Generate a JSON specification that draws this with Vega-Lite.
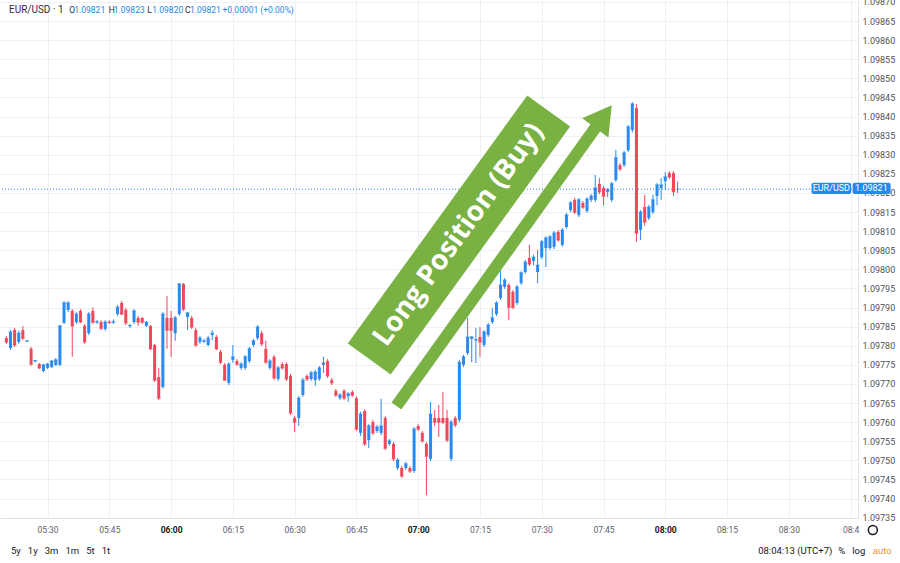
{
  "$schema": "https://vega.github.io/schema/vega-lite/v6.json",
  "width": 858,
  "height": 518,
  "autosize": {"type": "none"},
  "padding": {"left": 0, "top": 0, "right": 42, "bottom": 45},
  "background": "white",
  "config": {"view": {"stroke": null}, "font": "Roboto"},
  "data": {
    "format": {"parse": {"t": "utc:'%H:%M'"}},
    "values": [
      {"t":"05:20","o":1.097820,"h":1.097826,"l":1.097805,"c":1.097810},
      {"t":"05:21","o":1.097794,"h":1.097841,"l":1.097789,"c":1.097836},
      {"t":"05:22","o":1.097841,"h":1.097847,"l":1.097797,"c":1.097802},
      {"t":"05:23","o":1.097810,"h":1.097839,"l":1.097805,"c":1.097833},
      {"t":"05:24","o":1.097841,"h":1.097852,"l":1.097815,"c":1.097820},
      {"t":"05:25","o":1.097811,"h":1.097815,"l":1.097810,"c":1.097813},
      {"t":"05:26","o":1.097792,"h":1.097797,"l":1.097747,"c":1.097752},
      {"t":"05:27","o":1.097759,"h":1.097763,"l":1.097757,"c":1.097761},
      {"t":"05:28","o":1.097752,"h":1.097755,"l":1.097739,"c":1.097742},
      {"t":"05:29","o":1.097734,"h":1.097752,"l":1.097731,"c":1.097750},
      {"t":"05:30","o":1.097742,"h":1.097755,"l":1.097739,"c":1.097752},
      {"t":"05:31","o":1.097744,"h":1.097763,"l":1.097742,"c":1.097760},
      {"t":"05:32","o":1.097750,"h":1.097768,"l":1.097747,"c":1.097763},
      {"t":"05:33","o":1.097750,"h":1.097854,"l":1.097747,"c":1.097852},
      {"t":"05:34","o":1.097860,"h":1.097917,"l":1.097857,"c":1.097912},
      {"t":"05:35","o":1.097894,"h":1.097917,"l":1.097888,"c":1.097912},
      {"t":"05:36","o":1.097891,"h":1.097896,"l":1.097771,"c":1.097852},
      {"t":"05:37","o":1.097862,"h":1.097888,"l":1.097857,"c":1.097883},
      {"t":"05:38","o":1.097891,"h":1.097896,"l":1.097860,"c":1.097862},
      {"t":"05:39","o":1.097852,"h":1.097857,"l":1.097805,"c":1.097810},
      {"t":"05:40","o":1.097833,"h":1.097888,"l":1.097828,"c":1.097883},
      {"t":"05:41","o":1.097891,"h":1.097901,"l":1.097857,"c":1.097862},
      {"t":"05:42","o":1.097861,"h":1.097867,"l":1.097857,"c":1.097863},
      {"t":"05:43","o":1.097862,"h":1.097867,"l":1.097841,"c":1.097846},
      {"t":"05:44","o":1.097844,"h":1.097867,"l":1.097839,"c":1.097862},
      {"t":"05:45","o":1.097863,"h":1.097867,"l":1.097857,"c":1.097861},
      {"t":"05:46","o":1.097861,"h":1.097869,"l":1.097857,"c":1.097863},
      {"t":"05:47","o":1.097883,"h":1.097907,"l":1.097878,"c":1.097901},
      {"t":"05:48","o":1.097912,"h":1.097917,"l":1.097880,"c":1.097883},
      {"t":"05:49","o":1.097894,"h":1.097899,"l":1.097854,"c":1.097860},
      {"t":"05:50","o":1.097851,"h":1.097857,"l":1.097847,"c":1.097853},
      {"t":"05:51","o":1.097862,"h":1.097896,"l":1.097857,"c":1.097891},
      {"t":"05:52","o":1.097873,"h":1.097878,"l":1.097852,"c":1.097862},
      {"t":"05:53","o":1.097873,"h":1.097875,"l":1.097857,"c":1.097862},
      {"t":"05:54","o":1.097852,"h":1.097865,"l":1.097849,"c":1.097862},
      {"t":"05:55","o":1.097852,"h":1.097854,"l":1.097789,"c":1.097792},
      {"t":"05:56","o":1.097802,"h":1.097805,"l":1.097705,"c":1.097710},
      {"t":"05:57","o":1.097718,"h":1.097742,"l":1.097658,"c":1.097663},
      {"t":"05:58","o":1.097692,"h":1.097888,"l":1.097687,"c":1.097883},
      {"t":"05:59","o":1.097873,"h":1.097930,"l":1.097792,"c":1.097841},
      {"t":"06:00","o":1.097873,"h":1.097891,"l":1.097771,"c":1.097841},
      {"t":"06:01","o":1.097833,"h":1.097878,"l":1.097813,"c":1.097873},
      {"t":"06:02","o":1.097883,"h":1.097964,"l":1.097878,"c":1.097962},
      {"t":"06:03","o":1.097962,"h":1.097964,"l":1.097891,"c":1.097896},
      {"t":"06:04","o":1.097875,"h":1.097888,"l":1.097841,"c":1.097886},
      {"t":"06:05","o":1.097873,"h":1.097878,"l":1.097844,"c":1.097849},
      {"t":"06:06","o":1.097841,"h":1.097847,"l":1.097797,"c":1.097802},
      {"t":"06:07","o":1.097810,"h":1.097826,"l":1.097805,"c":1.097820},
      {"t":"06:08","o":1.097811,"h":1.097818,"l":1.097807,"c":1.097813},
      {"t":"06:09","o":1.097802,"h":1.097826,"l":1.097799,"c":1.097820},
      {"t":"06:10","o":1.097828,"h":1.097841,"l":1.097815,"c":1.097833},
      {"t":"06:11","o":1.097823,"h":1.097828,"l":1.097789,"c":1.097792},
      {"t":"06:12","o":1.097784,"h":1.097789,"l":1.097752,"c":1.097757},
      {"t":"06:13","o":1.097750,"h":1.097755,"l":1.097708,"c":1.097710},
      {"t":"06:14","o":1.097703,"h":1.097757,"l":1.097697,"c":1.097752},
      {"t":"06:15","o":1.097763,"h":1.097802,"l":1.097755,"c":1.097771},
      {"t":"06:16","o":1.097760,"h":1.097765,"l":1.097747,"c":1.097752},
      {"t":"06:17","o":1.097742,"h":1.097757,"l":1.097737,"c":1.097752},
      {"t":"06:18","o":1.097742,"h":1.097776,"l":1.097737,"c":1.097771},
      {"t":"06:19","o":1.097760,"h":1.097797,"l":1.097755,"c":1.097792},
      {"t":"06:20","o":1.097802,"h":1.097818,"l":1.097797,"c":1.097813},
      {"t":"06:21","o":1.097820,"h":1.097854,"l":1.097815,"c":1.097849},
      {"t":"06:22","o":1.097833,"h":1.097839,"l":1.097799,"c":1.097805},
      {"t":"06:23","o":1.097792,"h":1.097813,"l":1.097752,"c":1.097757},
      {"t":"06:24","o":1.097742,"h":1.097765,"l":1.097737,"c":1.097760},
      {"t":"06:25","o":1.097771,"h":1.097776,"l":1.097710,"c":1.097716},
      {"t":"06:26","o":1.097713,"h":1.097747,"l":1.097708,"c":1.097742},
      {"t":"06:27","o":1.097752,"h":1.097757,"l":1.097737,"c":1.097742},
      {"t":"06:28","o":1.097752,"h":1.097757,"l":1.097708,"c":1.097713},
      {"t":"06:29","o":1.097721,"h":1.097726,"l":1.097619,"c":1.097624},
      {"t":"06:30","o":1.097611,"h":1.097616,"l":1.097574,"c":1.097600},
      {"t":"06:31","o":1.097611,"h":1.097668,"l":1.097590,"c":1.097663},
      {"t":"06:32","o":1.097671,"h":1.097716,"l":1.097666,"c":1.097710},
      {"t":"06:33","o":1.097721,"h":1.097726,"l":1.097708,"c":1.097713},
      {"t":"06:34","o":1.097713,"h":1.097734,"l":1.097708,"c":1.097729},
      {"t":"06:35","o":1.097710,"h":1.097737,"l":1.097695,"c":1.097731},
      {"t":"06:36","o":1.097713,"h":1.097747,"l":1.097708,"c":1.097742},
      {"t":"06:37","o":1.097750,"h":1.097771,"l":1.097729,"c":1.097755},
      {"t":"06:38","o":1.097760,"h":1.097765,"l":1.097716,"c":1.097721},
      {"t":"06:39","o":1.097710,"h":1.097716,"l":1.097697,"c":1.097703},
      {"t":"06:40","o":1.097682,"h":1.097687,"l":1.097666,"c":1.097671},
      {"t":"06:41","o":1.097663,"h":1.097676,"l":1.097658,"c":1.097671},
      {"t":"06:42","o":1.097682,"h":1.097687,"l":1.097658,"c":1.097663},
      {"t":"06:43","o":1.097668,"h":1.097679,"l":1.097653,"c":1.097674},
      {"t":"06:44","o":1.097679,"h":1.097684,"l":1.097666,"c":1.097671},
      {"t":"06:45","o":1.097663,"h":1.097668,"l":1.097577,"c":1.097582},
      {"t":"06:46","o":1.097572,"h":1.097627,"l":1.097564,"c":1.097621},
      {"t":"06:47","o":1.097629,"h":1.097634,"l":1.097538,"c":1.097543},
      {"t":"06:48","o":1.097553,"h":1.097595,"l":1.097532,"c":1.097590},
      {"t":"06:49","o":1.097600,"h":1.097606,"l":1.097566,"c":1.097572},
      {"t":"06:50","o":1.097577,"h":1.097593,"l":1.097572,"c":1.097587},
      {"t":"06:51","o":1.097572,"h":1.097661,"l":1.097566,"c":1.097590},
      {"t":"06:52","o":1.097611,"h":1.097616,"l":1.097527,"c":1.097532},
      {"t":"06:53","o":1.097543,"h":1.097556,"l":1.097538,"c":1.097551},
      {"t":"06:54","o":1.097543,"h":1.097548,"l":1.097498,"c":1.097504},
      {"t":"06:55","o":1.097480,"h":1.097506,"l":1.097475,"c":1.097501},
      {"t":"06:56","o":1.097480,"h":1.097485,"l":1.097454,"c":1.097459},
      {"t":"06:57","o":1.097480,"h":1.097496,"l":1.097475,"c":1.097491},
      {"t":"06:58","o":1.097480,"h":1.097485,"l":1.097467,"c":1.097472},
      {"t":"06:59","o":1.097472,"h":1.097587,"l":1.097467,"c":1.097582},
      {"t":"07:00","o":1.097590,"h":1.097595,"l":1.097577,"c":1.097582},
      {"t":"07:01","o":1.097572,"h":1.097577,"l":1.097546,"c":1.097551},
      {"t":"07:02","o":1.097543,"h":1.097548,"l":1.097409,"c":1.097511},
      {"t":"07:03","o":1.097504,"h":1.097653,"l":1.097498,"c":1.097621},
      {"t":"07:04","o":1.097611,"h":1.097632,"l":1.097590,"c":1.097600},
      {"t":"07:05","o":1.097611,"h":1.097645,"l":1.097561,"c":1.097600},
      {"t":"07:06","o":1.097611,"h":1.097679,"l":1.097595,"c":1.097600},
      {"t":"07:07","o":1.097611,"h":1.097632,"l":1.097548,"c":1.097553},
      {"t":"07:08","o":1.097504,"h":1.097606,"l":1.097498,"c":1.097600},
      {"t":"07:09","o":1.097611,"h":1.097616,"l":1.097587,"c":1.097593},
      {"t":"07:10","o":1.097606,"h":1.097763,"l":1.097600,"c":1.097757},
      {"t":"07:11","o":1.097750,"h":1.097776,"l":1.097744,"c":1.097771},
      {"t":"07:12","o":1.097781,"h":1.097873,"l":1.097776,"c":1.097823},
      {"t":"07:13","o":1.097818,"h":1.097826,"l":1.097757,"c":1.097823},
      {"t":"07:14","o":1.097814,"h":1.097847,"l":1.097755,"c":1.097816},
      {"t":"07:15","o":1.097823,"h":1.097849,"l":1.097771,"c":1.097810},
      {"t":"07:16","o":1.097802,"h":1.097841,"l":1.097797,"c":1.097836},
      {"t":"07:17","o":1.097828,"h":1.097860,"l":1.097823,"c":1.097854},
      {"t":"07:18","o":1.097862,"h":1.097899,"l":1.097857,"c":1.097873},
      {"t":"07:19","o":1.097883,"h":1.097917,"l":1.097878,"c":1.097912},
      {"t":"07:20","o":1.097925,"h":1.097998,"l":1.097920,"c":1.097959},
      {"t":"07:21","o":1.097954,"h":1.097977,"l":1.097949,"c":1.097972},
      {"t":"07:22","o":1.097959,"h":1.097964,"l":1.097867,"c":1.097901},
      {"t":"07:23","o":1.097941,"h":1.097946,"l":1.097896,"c":1.097901},
      {"t":"07:24","o":1.097912,"h":1.097959,"l":1.097907,"c":1.097954},
      {"t":"07:25","o":1.097964,"h":1.097995,"l":1.097959,"c":1.097991},
      {"t":"07:26","o":1.097993,"h":1.098025,"l":1.097988,"c":1.098019},
      {"t":"07:27","o":1.098030,"h":1.098064,"l":1.098009,"c":1.098014},
      {"t":"07:28","o":1.098022,"h":1.098038,"l":1.098011,"c":1.098032},
      {"t":"07:29","o":1.097993,"h":1.098051,"l":1.097964,"c":1.098011},
      {"t":"07:30","o":1.098032,"h":1.098077,"l":1.098027,"c":1.098072},
      {"t":"07:31","o":1.098056,"h":1.098087,"l":1.098006,"c":1.098082},
      {"t":"07:32","o":1.098056,"h":1.098090,"l":1.098051,"c":1.098085},
      {"t":"07:33","o":1.098059,"h":1.098100,"l":1.098053,"c":1.098095},
      {"t":"07:34","o":1.098098,"h":1.098103,"l":1.098072,"c":1.098077},
      {"t":"07:35","o":1.098064,"h":1.098108,"l":1.098059,"c":1.098103},
      {"t":"07:36","o":1.098111,"h":1.098148,"l":1.098106,"c":1.098142},
      {"t":"07:37","o":1.098155,"h":1.098179,"l":1.098150,"c":1.098174},
      {"t":"07:38","o":1.098182,"h":1.098187,"l":1.098145,"c":1.098150},
      {"t":"07:39","o":1.098142,"h":1.098187,"l":1.098137,"c":1.098182},
      {"t":"07:40","o":1.098174,"h":1.098179,"l":1.098158,"c":1.098163},
      {"t":"07:41","o":1.098153,"h":1.098189,"l":1.098148,"c":1.098184},
      {"t":"07:42","o":1.098182,"h":1.098197,"l":1.098176,"c":1.098192},
      {"t":"07:43","o":1.098182,"h":1.098247,"l":1.098176,"c":1.098213},
      {"t":"07:44","o":1.098224,"h":1.098239,"l":1.098197,"c":1.098203},
      {"t":"07:45","o":1.098213,"h":1.098218,"l":1.098168,"c":1.098192},
      {"t":"07:46","o":1.098203,"h":1.098213,"l":1.098189,"c":1.098208},
      {"t":"07:47","o":1.098182,"h":1.098229,"l":1.098176,"c":1.098224},
      {"t":"07:48","o":1.098234,"h":1.098313,"l":1.098229,"c":1.098292},
      {"t":"07:49","o":1.098273,"h":1.098278,"l":1.098257,"c":1.098263},
      {"t":"07:50","o":1.098273,"h":1.098310,"l":1.098268,"c":1.098305},
      {"t":"07:51","o":1.098312,"h":1.098378,"l":1.098307,"c":1.098373},
      {"t":"07:52","o":1.098365,"h":1.098438,"l":1.098359,"c":1.098433},
      {"t":"07:53","o":1.098422,"h":1.098433,"l":1.098072,"c":1.098095},
      {"t":"07:54","o":1.098103,"h":1.098155,"l":1.098077,"c":1.098150},
      {"t":"07:55","o":1.098163,"h":1.098195,"l":1.098114,"c":1.098124},
      {"t":"07:56","o":1.098134,"h":1.098169,"l":1.098129,"c":1.098163},
      {"t":"07:57","o":1.098150,"h":1.098195,"l":1.098145,"c":1.098182},
      {"t":"07:58","o":1.098192,"h":1.098226,"l":1.098168,"c":1.098221},
      {"t":"07:59","o":1.098213,"h":1.098239,"l":1.098182,"c":1.098221},
      {"t":"08:00","o":1.098231,"h":1.098255,"l":1.098208,"c":1.098242},
      {"t":"08:01","o":1.098252,"h":1.098257,"l":1.098237,"c":1.098242},
      {"t":"08:02","o":1.098252,"h":1.098257,"l":1.098192,"c":1.098203},
      {"t":"08:03","o":1.098210,"h":1.098230,"l":1.098200,"c":1.098210}
    ]
  },
  "layer": [
    {
      "mark": {"type": "rule", "strokeWidth": 1},
      "encoding": {
        "x": {
          "field": "t", "type": "temporal",
          "scale": {"type": "utc", "domain": [
            {"year": 1900, "month": 1, "date": 1, "hours": 5, "minutes": 19, "seconds": 40, "utc": true},
            {"year": 1900, "month": 1, "date": 1, "hours": 8, "minutes": 45, "seconds": 35, "utc": true}
          ]},
          "axis": {
            "orient": "bottom", "title": null, "ticks": false, "labelPadding": 7,
            "tickCount": 40,
            "values": [
              {"year": 1900, "month": 1, "date": 1, "hours": 5, "minutes": 30, "utc": true},
              {"year": 1900, "month": 1, "date": 1, "hours": 5, "minutes": 45, "utc": true},
              {"year": 1900, "month": 1, "date": 1, "hours": 6, "minutes": 0, "utc": true},
              {"year": 1900, "month": 1, "date": 1, "hours": 6, "minutes": 15, "utc": true},
              {"year": 1900, "month": 1, "date": 1, "hours": 6, "minutes": 30, "utc": true},
              {"year": 1900, "month": 1, "date": 1, "hours": 6, "minutes": 45, "utc": true},
              {"year": 1900, "month": 1, "date": 1, "hours": 7, "minutes": 0, "utc": true},
              {"year": 1900, "month": 1, "date": 1, "hours": 7, "minutes": 15, "utc": true},
              {"year": 1900, "month": 1, "date": 1, "hours": 7, "minutes": 30, "utc": true},
              {"year": 1900, "month": 1, "date": 1, "hours": 7, "minutes": 45, "utc": true},
              {"year": 1900, "month": 1, "date": 1, "hours": 8, "minutes": 0, "utc": true},
              {"year": 1900, "month": 1, "date": 1, "hours": 8, "minutes": 15, "utc": true},
              {"year": 1900, "month": 1, "date": 1, "hours": 8, "minutes": 30, "utc": true},
              {"year": 1900, "month": 1, "date": 1, "hours": 8, "minutes": 45, "utc": true}
            ],
            "labelExpr": "utchours(datum.value) == 8 && utcminutes(datum.value) == 45 ? '08:4' : utcFormat(datum.value, '%H:%M')",
            "labelFontSize": 8.5,
            "labelColor": {"condition": {"test": "utcminutes(datum.value) == 0", "value": "#131722"}, "value": "#5d606b"},
            "labelFontWeight": {"condition": {"test": "utcminutes(datum.value) == 0", "value": "bold"}, "value": "normal"},
            "labelOverlap": false, "labelFlush": false,
            "grid": true, "gridColor": "#eef0f4", "gridWidth": 1,
            "domainColor": "#e0e3eb"
          }
        },
        "y": {
          "field": "l", "type": "quantitative",
          "scale": {"domain": [1.0973491, 1.0987052], "nice": false, "zero": false},
          "axis": {
            "orient": "right", "title": null, "ticks": false, "labelPadding": 4,
            "tickCount": 60,
            "format": ".5f", "labelFontSize": 9, "labelColor": "#4c525e",
            "values": [1.09735, 1.0974, 1.09745, 1.0975, 1.09755, 1.0976, 1.09765, 1.0977, 1.09775, 1.0978, 1.09785, 1.0979, 1.09795, 1.098, 1.09805, 1.0981, 1.09815, 1.0982, 1.09825, 1.0983, 1.09835, 1.0984, 1.09845, 1.0985, 1.09855, 1.0986, 1.09865, 1.0987],
            "labelFlush": false, "labelOverlap": false,
            "grid": true, "gridColor": "#eef0f4", "gridWidth": 1,
            "domainColor": "#e0e3eb"
          }
        },
        "y2": {"field": "h"},
        "color": {"condition": {"test": "datum.c >= datum.o", "value": "#2a8af0"}, "value": "#f0475a"}
      }
    },
    {
      "data": {"values": [{}]},
      "mark": {"type": "rule", "strokeDash": [1, 2], "color": "#2a7df0", "strokeWidth": 1},
      "encoding": {"y": {"datum": 1.09821, "type": "quantitative"}}
    },
    {
      "mark": {"type": "tick", "orient": "horizontal", "size": 4, "thickness": 1},
      "encoding": {
        "x": {"field": "t", "type": "temporal"},
        "y": {"field": "c", "type": "quantitative"},
        "color": {"condition": {"test": "datum.c >= datum.o", "value": "#2a8af0"}, "value": "#f0475a"}
      }
    },
    {
      "mark": {"type": "bar", "size": 3},
      "encoding": {
        "x": {"field": "t", "type": "temporal"},
        "y": {"field": "o", "type": "quantitative"},
        "y2": {"field": "c"},
        "color": {"condition": {"test": "datum.c >= datum.o", "value": "#2a8af0"}, "value": "#f0475a"}
      }
    },
    {
      "data": {"values": [{}]},
      "mark": {"type": "rule", "strokeWidth": 53, "strokeCap": "butt", "color": "#79b142"},
      "encoding": {
        "x": {"datum": {"year": 1900, "month": 1, "date": 1, "hours": 6, "minutes": 48, "seconds": 7, "utc": true}, "type": "temporal"},
        "x2": {"datum": {"year": 1900, "month": 1, "date": 1, "hours": 7, "minutes": 31, "seconds": 41, "utc": true}},
        "y": {"datum": 1.0977653, "type": "quantitative"},
        "y2": {"datum": 1.0984146}
      }
    },
    {
      "data": {"values": [{}]},
      "mark": {"type": "text", "text": "Long Position (Buy)", "font": "Open Sans", "fontWeight": "bold", "fontSize": 28, "color": "white", "angle": 306.2, "align": "center", "baseline": "middle"},
      "encoding": {
        "x": {"datum": {"year": 1900, "month": 1, "date": 1, "hours": 7, "minutes": 9, "seconds": 54, "utc": true}, "type": "temporal"},
        "y": {"datum": 1.09809, "type": "quantitative"}
      }
    },
    {
      "data": {"values": [{}]},
      "mark": {"type": "rule", "strokeWidth": 12, "strokeCap": "butt", "color": "#79b142"},
      "encoding": {
        "x": {"datum": {"year": 1900, "month": 1, "date": 1, "hours": 6, "minutes": 54, "seconds": 43, "utc": true}, "type": "temporal"},
        "x2": {"datum": {"year": 1900, "month": 1, "date": 1, "hours": 7, "minutes": 43, "seconds": 41, "utc": true}},
        "y": {"datum": 1.0976422, "type": "quantitative"},
        "y2": {"datum": 1.0983806}
      }
    },
    {
      "data": {"values": [{}]},
      "mark": {"type": "point", "shape": "triangle-up", "size": 1050, "angle": 36, "filled": true, "opacity": 1, "color": "#79b142"},
      "encoding": {
        "x": {"datum": {"year": 1900, "month": 1, "date": 1, "hours": 7, "minutes": 45, "seconds": 0, "utc": true}, "type": "temporal"},
        "y": {"datum": 1.0984002, "type": "quantitative"}
      }
    },
    {
      "data": {"values": [{}]},
      "mark": {"type": "rect", "color": "#2388f0", "cornerRadius": 2},
      "encoding": {
        "x": {"datum": {"year": 1900, "month": 1, "date": 1, "hours": 8, "minutes": 35, "seconds": 31, "utc": true}, "type": "temporal"},
        "x2": {"datum": {"year": 1900, "month": 1, "date": 1, "hours": 8, "minutes": 45, "seconds": 7, "utc": true}},
        "y": {"datum": 1.0982269, "type": "quantitative"},
        "y2": {"datum": 1.0981973}
      }
    },
    {
      "data": {"values": [{}]},
      "mark": {"type": "rect", "color": "#2388f0", "cornerRadius": 2},
      "encoding": {
        "x": {"datum": {"year": 1900, "month": 1, "date": 1, "hours": 8, "minutes": 45, "seconds": 29, "utc": true}, "type": "temporal"},
        "x2": {"datum": {"year": 1900, "month": 1, "date": 1, "hours": 8, "minutes": 54, "seconds": 43, "utc": true}},
        "y": {"datum": 1.0982269, "type": "quantitative"},
        "y2": {"datum": 1.0981973}
      }
    },
    {
      "data": {"values": [{}]},
      "mark": {"type": "text", "text": "EUR/USD", "fontSize": 9, "color": "white", "align": "center", "baseline": "middle"},
      "encoding": {
        "x": {"datum": {"year": 1900, "month": 1, "date": 1, "hours": 8, "minutes": 40, "seconds": 19, "utc": true}, "type": "temporal"},
        "y": {"datum": 1.098212, "type": "quantitative"}
      }
    },
    {
      "data": {"values": [{}]},
      "mark": {"type": "text", "text": "1.09821", "fontSize": 9, "color": "white", "align": "center", "baseline": "middle"},
      "encoding": {
        "x": {"datum": {"year": 1900, "month": 1, "date": 1, "hours": 8, "minutes": 50, "seconds": 2, "utc": true}, "type": "temporal"},
        "y": {"datum": 1.098212, "type": "quantitative"}
      }
    },
    {
      "data": {"values": [{}]},
      "mark": {"type": "text", "text": "EUR/USD · 1", "fontSize": 10, "color": "#2a2e39", "align": "left", "baseline": "middle"},
      "encoding": {
        "x": {"datum": {"year": 1900, "month": 1, "date": 1, "hours": 5, "minutes": 20, "seconds": 38, "utc": true}, "type": "temporal"},
        "y": {"datum": 1.098679, "type": "quantitative"}
      }
    },
    {
      "data": {"values": [{}]},
      "mark": {"type": "text", "text": "O", "fontSize": 8.5, "color": "#2a2e39", "align": "left", "baseline": "middle"},
      "encoding": {
        "x": {"datum": {"year": 1900, "month": 1, "date": 1, "hours": 5, "minutes": 35, "seconds": 17, "utc": true}, "type": "temporal"},
        "y": {"datum": 1.098679, "type": "quantitative"}
      }
    },
    {
      "data": {"values": [{}]},
      "mark": {"type": "text", "text": "1.09821", "fontSize": 8.5, "color": "#1e88e5", "align": "left", "baseline": "middle"},
      "encoding": {
        "x": {"datum": {"year": 1900, "month": 1, "date": 1, "hours": 5, "minutes": 36, "seconds": 29, "utc": true}, "type": "temporal"},
        "y": {"datum": 1.098679, "type": "quantitative"}
      }
    },
    {
      "data": {"values": [{}]},
      "mark": {"type": "text", "text": "H", "fontSize": 8.5, "color": "#2a2e39", "align": "left", "baseline": "middle"},
      "encoding": {
        "x": {"datum": {"year": 1900, "month": 1, "date": 1, "hours": 5, "minutes": 44, "seconds": 53, "utc": true}, "type": "temporal"},
        "y": {"datum": 1.098679, "type": "quantitative"}
      }
    },
    {
      "data": {"values": [{}]},
      "mark": {"type": "text", "text": "1.09823", "fontSize": 8.5, "color": "#1e88e5", "align": "left", "baseline": "middle"},
      "encoding": {
        "x": {"datum": {"year": 1900, "month": 1, "date": 1, "hours": 5, "minutes": 46, "seconds": 5, "utc": true}, "type": "temporal"},
        "y": {"datum": 1.098679, "type": "quantitative"}
      }
    },
    {
      "data": {"values": [{}]},
      "mark": {"type": "text", "text": "L", "fontSize": 8.5, "color": "#2a2e39", "align": "left", "baseline": "middle"},
      "encoding": {
        "x": {"datum": {"year": 1900, "month": 1, "date": 1, "hours": 5, "minutes": 54, "seconds": 14, "utc": true}, "type": "temporal"},
        "y": {"datum": 1.098679, "type": "quantitative"}
      }
    },
    {
      "data": {"values": [{}]},
      "mark": {"type": "text", "text": "1.09820", "fontSize": 8.5, "color": "#1e88e5", "align": "left", "baseline": "middle"},
      "encoding": {
        "x": {"datum": {"year": 1900, "month": 1, "date": 1, "hours": 5, "minutes": 55, "seconds": 26, "utc": true}, "type": "temporal"},
        "y": {"datum": 1.098679, "type": "quantitative"}
      }
    },
    {
      "data": {"values": [{}]},
      "mark": {"type": "text", "text": "C", "fontSize": 8.5, "color": "#2a2e39", "align": "left", "baseline": "middle"},
      "encoding": {
        "x": {"datum": {"year": 1900, "month": 1, "date": 1, "hours": 6, "minutes": 3, "seconds": 22, "utc": true}, "type": "temporal"},
        "y": {"datum": 1.098679, "type": "quantitative"}
      }
    },
    {
      "data": {"values": [{}]},
      "mark": {"type": "text", "text": "1.09821", "fontSize": 8.5, "color": "#1e88e5", "align": "left", "baseline": "middle"},
      "encoding": {
        "x": {"datum": {"year": 1900, "month": 1, "date": 1, "hours": 6, "minutes": 4, "seconds": 34, "utc": true}, "type": "temporal"},
        "y": {"datum": 1.098679, "type": "quantitative"}
      }
    },
    {
      "data": {"values": [{}]},
      "mark": {"type": "text", "text": "+0.00001 (+0.00%)", "fontSize": 8.5, "color": "#1e88e5", "align": "left", "baseline": "middle"},
      "encoding": {
        "x": {"datum": {"year": 1900, "month": 1, "date": 1, "hours": 6, "minutes": 12, "seconds": 29, "utc": true}, "type": "temporal"},
        "y": {"datum": 1.098679, "type": "quantitative"}
      }
    },
    {
      "data": {"values": [{}]},
      "mark": {"type": "text", "text": "5y\u00a0\u00a0\u00a01y\u00a0\u00a0\u00a03m\u00a0\u00a0\u00a01m\u00a0\u00a0\u00a05t\u00a0\u00a0\u00a01t", "fontSize": 9.5, "color": "#131722", "align": "left", "baseline": "middle"},
      "encoding": {
        "x": {"datum": {"year": 1900, "month": 1, "date": 1, "hours": 5, "minutes": 21, "seconds": 7, "utc": true}, "type": "temporal"},
        "y": {"datum": 1.0972627, "type": "quantitative"}
      }
    },
    {
      "data": {"values": [{}]},
      "mark": {"type": "text", "text": "08:04:13 (UTC+7)", "fontSize": 9.5, "color": "#131722", "align": "right", "baseline": "middle"},
      "encoding": {
        "x": {"datum": {"year": 1900, "month": 1, "date": 1, "hours": 8, "minutes": 40, "seconds": 34, "utc": true}, "type": "temporal"},
        "y": {"datum": 1.0972627, "type": "quantitative"}
      }
    },
    {
      "data": {"values": [{}]},
      "mark": {"type": "text", "text": "%\u00a0\u00a0\u00a0log", "fontSize": 9.5, "color": "#131722", "align": "left", "baseline": "middle"},
      "encoding": {
        "x": {"datum": {"year": 1900, "month": 1, "date": 1, "hours": 8, "minutes": 42, "seconds": 0, "utc": true}, "type": "temporal"},
        "y": {"datum": 1.0972627, "type": "quantitative"}
      }
    },
    {
      "data": {"values": [{}]},
      "mark": {"type": "text", "text": "auto", "fontSize": 9.5, "color": "#ef8f35", "align": "right", "baseline": "middle"},
      "encoding": {
        "x": {"datum": {"year": 1900, "month": 1, "date": 1, "hours": 8, "minutes": 54, "seconds": 58, "utc": true}, "type": "temporal"},
        "y": {"datum": 1.0972627, "type": "quantitative"}
      }
    },
    {
      "data": {"values": [{}]},
      "mark": {"type": "point", "shape": "circle", "size": 80, "filled": false, "stroke": "#131722", "strokeWidth": 1.5, "opacity": 1},
      "encoding": {
        "x": {"datum": {"year": 1900, "month": 1, "date": 1, "hours": 8, "minutes": 50, "seconds": 24, "utc": true}, "type": "temporal"},
        "y": {"datum": 1.0973177, "type": "quantitative"}
      }
    }
  ]
}
